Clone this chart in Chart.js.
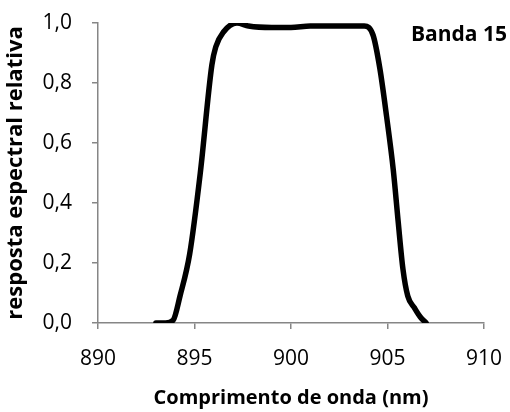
<!DOCTYPE html>
<html>
<head>
<meta charset="utf-8">
<script src="https://cdn.jsdelivr.net/npm/chart.js@4/dist/chart.umd.min.js"></script>
<style>
  html, body { margin: 0; padding: 0; background: #fff; }
  #wrap { width: 510px; height: 412px; }
</style>
</head>
<body>
<div id="wrap"><canvas id="c" width="510" height="412"></canvas></div>
<script>
// Relative spectral response of band 15
const wavelengthNm = [893.0, 893.5, 893.9, 894.25, 894.75, 895.3, 895.9, 896.1, 896.5, 897.2, 897.8, 899.0, 900.0, 901.0, 902.0, 903.0, 903.8, 904.25, 904.6, 904.95, 905.3, 905.55, 905.8, 906.05, 906.4, 906.7, 907.0];
const response     = [0.0, 0.0, 0.01, 0.09, 0.23, 0.50, 0.86, 0.92, 0.97, 1.0, 0.99, 0.985, 0.985, 0.99, 0.99, 0.99, 0.99, 0.96, 0.85, 0.69, 0.51, 0.34, 0.18, 0.09, 0.05, 0.02, 0.0];
const xTicks = [890, 895, 900, 905, 910];
const yTicks = [0, 0.2, 0.4, 0.6, 0.8, 1.0];
const bandLabel = 'Banda 15';

const FONT = "'Open Sans', sans-serif";
const AXIS = '#868686';

const bandTitle = {
  id: 'bandTitle',
  afterDraw(chart) {
    const { ctx } = chart;
    ctx.save();
    ctx.font = 'bold 21px ' + FONT;
    ctx.fillStyle = '#000';
    ctx.textAlign = 'right';
    ctx.textBaseline = 'middle';
    ctx.fillText(bandLabel, 507, 35);
    ctx.restore();
  }
};

new Chart(document.getElementById('c'), {
  type: 'line',
  data: {
    datasets: [{
      data: wavelengthNm.map((x, i) => ({ x, y: response[i] })),
      borderColor: '#000',
      borderWidth: 5.5,
      borderCapStyle: 'round',
      borderJoinStyle: 'round',
      pointRadius: 0,
      cubicInterpolationMode: 'monotone',
      fill: false
    }]
  },
  options: {
    responsive: false,
    animation: false,
    layout: { padding: { top: 23, right: 26, left: 0, bottom: 0 } },
    plugins: { legend: { display: false }, tooltip: { enabled: false } },
    scales: {
      x: {
        type: 'linear',
        min: 890, max: 910,
        afterBuildTicks(s) { s.ticks = xTicks.map(v => ({ value: v })); },
        afterFit(s) { s.height = 89; s.paddingLeft = 0; s.paddingRight = 0; },
        border: { color: AXIS, width: 1.5 },
        grid: { drawOnChartArea: false, color: AXIS, tickLength: 6, lineWidth: 1.5 },
        ticks: { color: '#000', font: { family: FONT, size: 21 }, padding: 17 },
        title: { display: true, text: 'Comprimento de onda (nm)', color: '#000', font: { family: FONT, size: 20, weight: 'bold' }, padding: { top: 4, bottom: 2 } }
      },
      y: {
        min: 0, max: 1,
        afterBuildTicks(s) { s.ticks = yTicks.map(v => ({ value: v })); },
        afterFit(s) { s.width = 98; s.paddingTop = 0; s.paddingBottom = 0; },
        border: { color: AXIS, width: 1.5 },
        grid: { drawOnChartArea: false, color: AXIS, tickLength: 6, lineWidth: 1.5 },
        ticks: { color: '#000', font: { family: FONT, size: 21 }, padding: 20,
          callback: v => v.toFixed(1).replace('.', ',') },
        title: { display: true, text: 'resposta espectral relativa', color: '#000', font: { family: FONT, size: 22, weight: 'bold' }, padding: { top: 3, bottom: 0 } }
      }
    }
  },
  plugins: [bandTitle]
});
</script>
</body>
</html>
